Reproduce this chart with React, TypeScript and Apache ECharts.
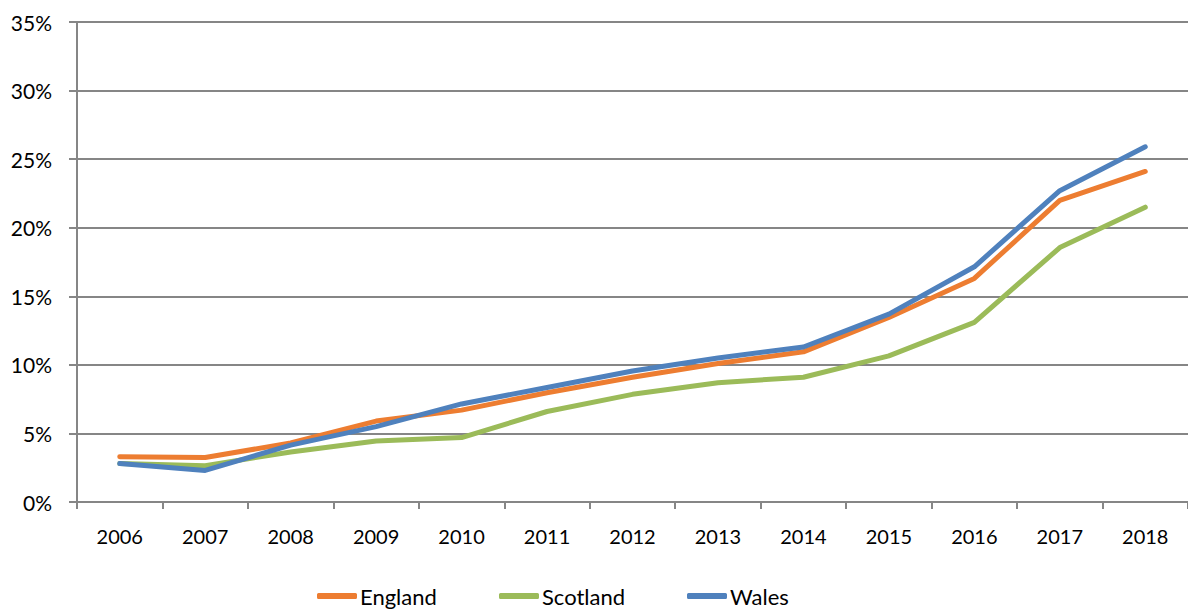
import React, { useEffect, useRef } from "react";
import * as echarts from "echarts";

const years = ["2006", "2007", "2008", "2009", "2010", "2011", "2012", "2013", "2014", "2015", "2016", "2017", "2018"];
const england = [3.3, 3.25, 4.3, 5.9, 6.7, 7.97, 9.1, 10.1, 10.95, 13.45, 16.3, 22.0, 24.1];
const scotland = [2.8, 2.65, 3.65, 4.45, 4.7, 6.6, 7.85, 8.7, 9.1, 10.65, 13.1, 18.55, 21.5];
const wales = [2.8, 2.3, 4.15, 5.5, 7.15, 8.35, 9.55, 10.5, 11.3, 13.7, 17.15, 22.7, 25.9];
const seriesNames = ["England", "Scotland", "Wales"];
const yTicks = { min: 0, max: 35, interval: 5 };

const FONT = "Lato";

export default function App() {
  const ref = useRef<HTMLDivElement>(null);
  useEffect(() => {
    if (!ref.current) return;
    const chart = echarts.init(ref.current, null, { renderer: "svg" });
    const mk = (name: string, data: number[], color: string) => ({
      name,
      type: "line",
      data,
      symbol: "none",
      color,
      lineStyle: { width: 5, color, cap: "round", join: "round" },
    });
    const legendLefts = [317, 499, 687];
    chart.setOption({
      animation: false,
      backgroundColor: "#ffffff",
      grid: { left: 77, right: -3, top: 22, bottom: 107, containLabel: false },
      legend: seriesNames.map((n, i) => ({
        left: legendLefts[i],
        top: 585,
        padding: 0,
        itemWidth: 40,
        itemHeight: 6,
        icon: "roundRect",
        textStyle: { fontFamily: FONT, fontSize: 22, color: "#000", padding: [0, 0, 0, -2] },
        data: [n],
      })),
      xAxis: {
        type: "category",
        data: years,
        boundaryGap: true,
        axisLine: { lineStyle: { color: "#868686", width: 2 } },
        axisTick: { show: true, length: 7, lineStyle: { color: "#868686", width: 2 } },
        axisLabel: { fontFamily: FONT, fontSize: 20, color: "#000", margin: 24 },
        splitLine: { show: false },
      },
      yAxis: {
        type: "value",
        min: yTicks.min,
        max: yTicks.max,
        interval: yTicks.interval,
        axisLine: { show: true, lineStyle: { color: "#868686", width: 2 } },
        axisTick: { show: true, length: 8, lineStyle: { color: "#868686", width: 2 } },
        axisLabel: { fontFamily: FONT, fontSize: 21, color: "#000", margin: 25, formatter: "{value}%" },
        splitLine: { show: true, lineStyle: { color: "#868686", width: 2 } },
      },
      series: [
        mk("England", england, "#ED7D31"),
        mk("Scotland", scotland, "#9BBB59"),
        mk("Wales", wales, "#4F81BD"),
      ],
    });
    return () => chart.dispose();
  }, []);
  return (
    <div
      ref={ref}
      style={{ position: "fixed", left: 0, top: 0, width: 1188, height: 609, background: "#fff" }}
    />
  );
}
